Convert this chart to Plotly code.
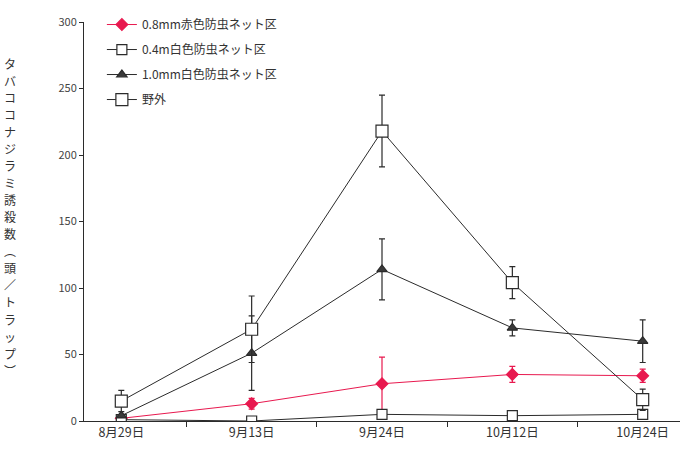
import plotly.graph_objects as go

# Survey dates (category axis)
dates = ["8月29日", "9月13日", "9月24日", "10月12日", "10月24日"]

# Mean catches per trap and standard errors for each plot
red08_mean = [2, 13, 28, 35, 34]
red08_err = [0, 4, 20, 6, 5]

white04_mean = [1, 0, 5, 4, 5]
white04_err = [0, 0, 0, 0, 0]

white10_mean = [4, 51, 114, 70, 60]
white10_err = [0, 28, 23, 6, 16]

field_mean = [15, 69, 218, 104, 16]
field_err = [8, 25, 27, 12, 8]

y_ticks = [0, 50, 100, 150, 200, 250, 300]

y_title = "タバココナジラミ誘殺数︵頭／トラップ︶"

FONT = "Noto Sans CJK JP"
INK = "#2b2b2b"
RED = "#e8194f"

W, H = 690, 450
M_L, M_R, M_T, M_B = 84, 10, 18, 29

fig = go.Figure()


def add_series(name, means, errs, color, symbol, fill, size, group, show_err=True):
    fig.add_trace(go.Scatter(
        x=dates, y=means, name=name, mode="lines+markers",
        legendgroup=group,
        line=dict(color=color, width=1),
        marker=dict(symbol=symbol, size=size, color=fill,
                    line=dict(color=color, width=1.2)),
        error_y=dict(type="data", array=errs, visible=show_err,
                     color=color, thickness=1.2, width=3),
    ))


add_series("0.8mm赤色防虫ネット区", red08_mean, red08_err, RED, "diamond", RED, 9, "a")
add_series("0.4m白色防虫ネット区", white04_mean, white04_err, INK, "square", "white", 10, "b", show_err=False)
add_series("1.0mm白色防虫ネット区", white10_mean, white10_err, INK, "triangle-up", "#3a3a3a", 9, "c")
add_series("野外", field_mean, field_err, INK, "square", "white", 12, "d")

# Vertical, upright axis title: one character per annotation, stacked downwards
plot_h = H - M_T - M_B
title_top_px, char_step_px = 60, 17.2
for i, ch in enumerate(y_title):
    y_px = title_top_px + i * char_step_px
    fig.add_annotation(
        text=ch, xref="paper", yref="paper",
        x=-0.125, y=(H - M_B - y_px) / plot_h,
        xanchor="center", yanchor="middle", showarrow=False,
        borderpad=0,
        font=dict(family=FONT, size=12, color="#333"),
    )

fig.update_layout(
    width=W, height=H,
    margin=dict(l=M_L, r=M_R, t=M_T, b=M_B),
    paper_bgcolor="white", plot_bgcolor="white",
    font=dict(family=FONT, size=12, color="#333"),
    showlegend=True,
    legend=dict(
        x=0.03, y=1.03, xanchor="left", yanchor="top",
        bgcolor="rgba(0,0,0,0)", tracegroupgap=6,
        font=dict(family=FONT, size=12, color="#333"),
    ),
    xaxis=dict(
        type="category", showgrid=False, showline=True,
        linecolor=INK, linewidth=1, ticks="outside", tickson="boundaries",
        ticklen=5, tickcolor=INK, tickfont=dict(size=12.5, color="#333"),
        zeroline=False,
    ),
    yaxis=dict(
        range=[0, 300], tickvals=y_ticks, showgrid=False, showline=True,
        linecolor=INK, linewidth=1, ticks="outside", ticklen=4,
        tickcolor=INK, tickfont=dict(size=11, color="#444"), zeroline=False,
    ),
)

fig.write_html("out.html")
